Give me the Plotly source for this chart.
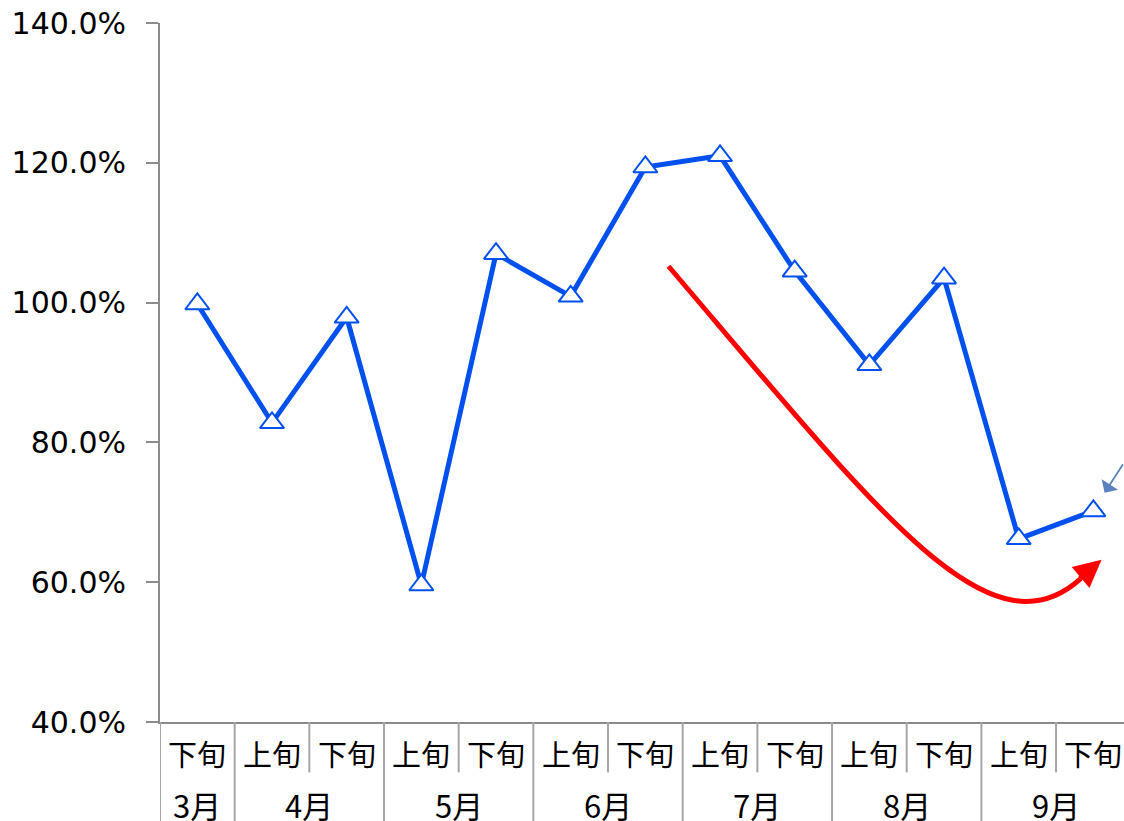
import plotly.graph_objects as go

# ---- data ----
sub_labels = ["下旬", "上旬", "下旬", "上旬", "下旬", "上旬", "下旬",
              "上旬", "下旬", "上旬", "下旬", "上旬", "下旬"]
months = ["3月", "4月", "5月", "6月", "7月", "8月", "9月"]
month_sizes = [1, 2, 2, 2, 2, 2, 2]
values = [0.998, 0.828, 0.979, 0.596, 1.070, 1.009, 1.194,
          1.210, 1.045, 0.911, 1.035, 0.662, 0.702]
y_ticks = [0.4, 0.6, 0.8, 1.0, 1.2, 1.4]

FONT = "Noto Sans CJK JP"
NUMFONT = "DejaVu Sans, Noto Sans CJK JP"
BLUE = "#0050ee"
GRID = "#a6a6a6"
AXIS = "#8c8c8c"

x = list(range(len(values)))

fig = go.Figure()
fig.add_trace(go.Scatter(
    x=x, y=values, mode="lines+markers",
    line=dict(color=BLUE, width=5),
    marker=dict(symbol="triangle-up", size=21, color="white",
                line=dict(color=BLUE, width=2)),
    cliponaxis=False, showlegend=False,
))

shapes = []
annotations = []

# sub-category labels
for i, lab in enumerate(sub_labels):
    annotations.append(dict(x=i, y=0, xref="x", yref="paper", text=lab,
                            showarrow=False, yanchor="middle", yshift=-31,
                            font=dict(family=FONT, size=29, color="black")))

# month labels and group dividers
start = -0.5
boundaries = [start]
for m, n in zip(months, month_sizes):
    end = start + n
    annotations.append(dict(x=(start + end) / 2, y=0, xref="x", yref="paper",
                            text=m, showarrow=False, yanchor="middle",
                            yshift=-82,
                            font=dict(family=FONT, size=31, color="black")))
    boundaries.append(end)
    start = end

for b in boundaries:
    shapes.append(dict(type="line", xref="x", yref="paper", x0=b, x1=b,
                       y0=0, y1=-0.15, line=dict(color=GRID, width=2)))
inner = [i + 0.5 for i in range(len(values) - 1) if (i + 0.5) not in boundaries]
for b in inner:
    shapes.append(dict(type="line", xref="x", yref="paper", x0=b, x1=b,
                       y0=0, y1=-0.072, line=dict(color=GRID, width=2)))

# red trend arrow (curve + head)
shapes.append(dict(type="path", xref="x", yref="y",
                   path="M 6.31,1.052 C 9.15,0.696 10.62,0.488 11.83,0.605",
                   line=dict(color="#ff0000", width=5)))
annotations.append(dict(x=12.11, y=0.632, ax=11.80, ay=0.604,
                        xref="x", yref="y", axref="x", ayref="y",
                        text="", showarrow=True, arrowhead=2,
                        arrowsize=1.1, arrowwidth=5, arrowcolor="#ff0000"))
# callout leader line at right edge
annotations.append(dict(x=12.15, y=0.728, xref="x", yref="y",
                        ax=40, ay=-30, text="", showarrow=True,
                        arrowhead=1, arrowsize=1.8, arrowwidth=1.8,
                        arrowcolor="#5b82bd"))

fig.update_layout(
    width=1124, height=821,
    margin=dict(l=160, r=0, t=23, b=99),
    plot_bgcolor="white", paper_bgcolor="white",
    shapes=shapes, annotations=annotations,
    xaxis=dict(range=[-0.5, 12.41], showticklabels=False, ticks="",
               showgrid=False, zeroline=False, showline=True,
               linecolor=AXIS, linewidth=2),
    yaxis=dict(range=[0.4, 1.4], tickvals=y_ticks, tickformat=".1%",
               showgrid=False, zeroline=False, showline=True,
               linecolor=AXIS, linewidth=2, ticks="outside", ticklen=12,
               tickcolor=AXIS, tickwidth=2, ticklabelstandoff=14,
               tickfont=dict(family=NUMFONT, size=30, color="black")),
)

fig.write_html("out.html")
